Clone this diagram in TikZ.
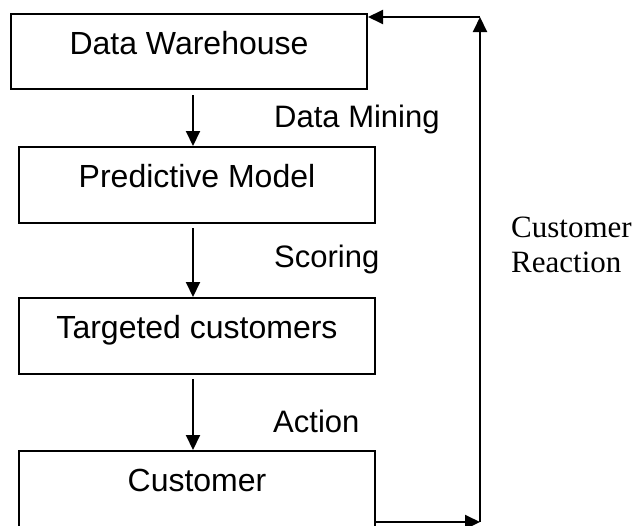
\documentclass[tikz,border=0pt]{standalone}
\usepackage{fontspec}
\setmainfont{Liberation Serif}
\newfontfamily\arialfont{Liberation Sans}
\usetikzlibrary{arrows.meta}
\begin{document}
\begin{tikzpicture}[x=1pt,y=-1pt,
  box/.style={draw, line width=2pt, inner sep=0pt, anchor=north,
    minimum width=356pt, text height=40pt,
    font=\arialfont\fontsize{32}{38}\selectfont},
  lbl/.style={inner sep=0pt, anchor=base west,
    font=\arialfont\fontsize{31}{37}\selectfont},
  flow/.style={line width=2pt, -{Triangle[length=15pt,width=14pt]}}]
\useasboundingbox (0,0) rectangle (639,525);

% process boxes
\node[box, text depth=35pt] (dw) at (189,13) {Data Warehouse};
\node[box, text depth=36pt] (pm) at (197,146) {Predictive Model};
\node[box, text depth=36pt] (tc) at (197,297) {Targeted customers};
\node[box, text depth=80pt] (cu) at (197,450) {Customer};

% step labels
\node[lbl] (mining) at (274,127) {Data Mining};
\node[lbl] (scoring) at (274,267) {Scoring};
\node[lbl] (action) at (273,432) {Action};
% the base anchor of a multi-line node sits on its last line
\node[inner sep=0pt, anchor=base west, align=left,
      font=\fontsize{31}{35}\selectfont] (reaction) at (511,272) {Customer\\Reaction};

% main flow
\draw[flow, shorten <=5pt] ([xshift=4pt]dw.south) -- ([xshift=-4pt]pm.north);
\draw[flow, shorten <=4pt] ([xshift=-4pt]pm.south) -- ([xshift=-4pt]tc.north);
\draw[flow, shorten <=4pt] ([xshift=-4pt]tc.south) -- ([xshift=-4pt]cu.north);

% feedback loop
\coordinate (fbB) at (480,522);
\coordinate (fbT) at (480,17);
\draw[flow] (cu.east |- fbB) -- (fbB);
\draw[flow] (fbB) -- (fbT);
\draw[flow] (fbT) -- (dw.east |- fbT);
\end{tikzpicture}
\end{document}
